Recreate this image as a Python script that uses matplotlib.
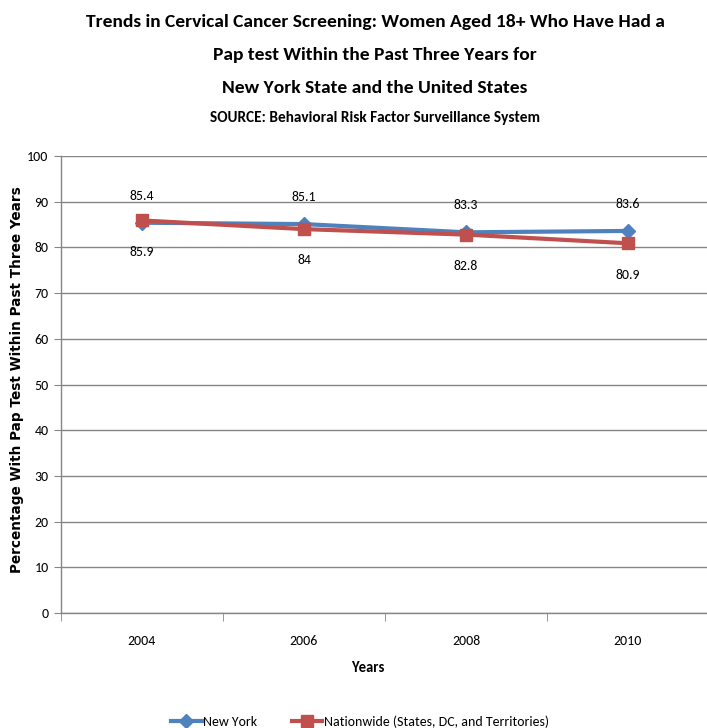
import matplotlib.pyplot as plt
import numpy as np

# Calibri-metric font for most of the text, Verdana-like bold for the y label
body_font = ["Carlito", "Liberation Sans", "DejaVu Sans"]
label_font = ["DejaVu Sans"]

years = ["2004", "2006", "2008", "2010"]
new_york = [85.4, 85.1, 83.3, 83.6]
nationwide = [85.9, 84, 82.8, 80.9]

blue = "#4F81BD"
red = "#C0504D"
grey = "#868686"

fig = plt.figure(figsize=(7.07, 7.28), dpi=100)
ax = fig.add_axes([61 / 707, 1 - 613 / 728, 648 / 707, 457 / 728])

x = np.arange(len(years))
ax.plot(x, new_york, color=blue, lw=3, marker="D", ms=7, label="New York", zorder=3)
ax.plot(x, nationwide, color=red, lw=3, marker="s", ms=8,
        label="Nationwide (States, DC, and Territories)", zorder=4)

# value labels: New York above the points, nationwide below
for i in x:
    ax.annotate(f"{new_york[i]:g}", (i, new_york[i]), xytext=(0, 19.5),
                textcoords="offset points", ha="center", va="center",
                fontsize=10, family=body_font)
    ax.annotate(f"{nationwide[i]:g}", (i, nationwide[i]), xytext=(0, -22.5),
                textcoords="offset points", ha="center", va="center",
                fontsize=10, family=body_font)

ax.set_xlim(-0.5, len(years) - 0.5)
ax.set_ylim(0, 100)
ax.set_yticks(range(0, 101, 10))
ax.set_xticks(x)
ax.set_xticklabels(years, family=body_font, fontsize=10)
ax.set_xticks(np.arange(-0.5, len(years), 1), minor=True)
ax.tick_params(axis="x", which="major", length=0, pad=16)
ax.tick_params(axis="x", which="minor", length=6, color=grey, direction="out")
ax.tick_params(axis="y", length=5, color=grey, direction="out", pad=4)
for lab in ax.get_yticklabels():
    lab.set_family(body_font)
    lab.set_fontsize(10)

ax.grid(axis="y", color=grey, lw=1)
ax.set_axisbelow(True)
for side in ["top", "right"]:
    ax.spines[side].set_visible(False)
for side in ["left", "bottom"]:
    ax.spines[side].set_color(grey)
    ax.spines[side].set_linewidth(1)

ax.set_xlabel("Years", family=body_font, fontsize=10.5, fontweight="bold", va="center")
ax.xaxis.set_label_coords((368 - 61) / 648, -(668 - 613) / 457)
ax.set_ylabel("Percentage With Pap Test Within Past Three Years",
              family=label_font, fontsize=9.8, fontweight="bold", va="center")
ax.yaxis.set_label_coords((17 - 61) / 648, (613 - 380) / 457)

title_lines = ["Trends in Cervical Cancer Screening: Women Aged 18+ Who Have Had a",
               "Pap test Within the Past Three Years for",
               "New York State and the United States"]
for k, line in enumerate(title_lines):
    fig.text(375 / 707, 1 - (22 + 33 * k) / 728, line, ha="center", va="center",
             fontsize=14, fontweight="bold", family=body_font)
fig.text(375 / 707, 1 - 118 / 728, "SOURCE: Behavioral Risk Factor Surveillance System",
         ha="center", va="center", fontsize=11, fontweight="bold", family=body_font)

fig.legend(loc="center", bbox_to_anchor=(360 / 707, 1 - 722 / 728), ncol=2,
           frameon=False, prop={"family": body_font, "size": 10},
           handlelength=2.2, columnspacing=2.5, handletextpad=0.1)

fig.savefig("out.png", dpi=100)
